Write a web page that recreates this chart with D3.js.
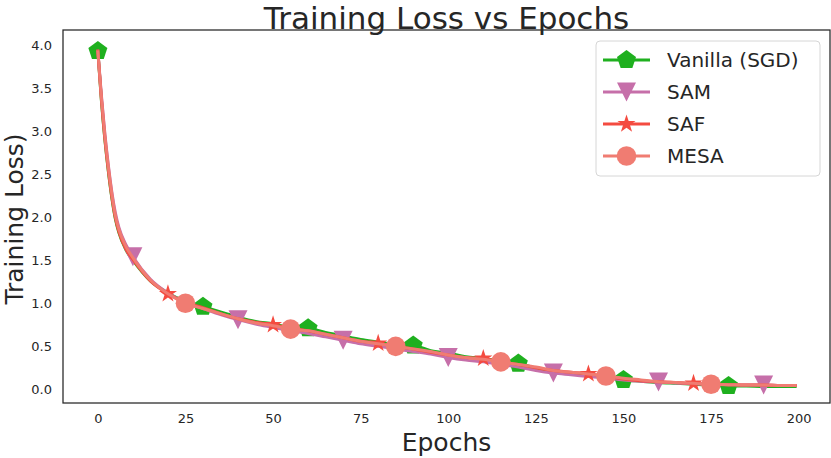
<!DOCTYPE html>
<html>
<head>
<meta charset="utf-8">
<script src="https://cdn.jsdelivr.net/npm/d3@7"></script>
<style>
  body { margin: 0; background: #fff; }
  svg { display: block; font-family: 'DejaVu Sans', sans-serif; }
</style>
</head>
<body>
<div class="chart"></div>
<script>
// Data
const epochs = [0, 1, 2, 3, 4, 5, 6, 8, 10, 15, 20, 25, 30, 35, 40, 45, 50, 55, 60, 65, 70, 75, 80, 85, 90, 95,
  100, 105, 110, 115, 120, 125, 130, 135, 140, 145, 150, 155, 160, 165, 170, 175, 180, 185, 190, 195, 199];

const vanillaLoss = [3.93, 3.36, 2.90, 2.53, 2.22, 1.98, 1.82, 1.62, 1.50, 1.26, 1.12, 1.02, 0.96, 0.90, 0.84, 0.79,
  0.76, 0.72, 0.71, 0.66, 0.62, 0.58, 0.55, 0.52, 0.51, 0.45, 0.42, 0.38, 0.36, 0.33, 0.30, 0.25, 0.21, 0.19,
  0.17, 0.14, 0.11, 0.095, 0.08, 0.07, 0.06, 0.05, 0.04, 0.04, 0.035, 0.035, 0.035];

const samLoss = [3.93, 3.42, 2.97, 2.60, 2.29, 2.05, 1.88, 1.68, 1.54, 1.28, 1.12, 1.01, 0.94, 0.87, 0.81, 0.76,
  0.72, 0.68, 0.65, 0.61, 0.57, 0.53, 0.50, 0.47, 0.44, 0.41, 0.37, 0.34, 0.32, 0.29, 0.26, 0.22, 0.19, 0.17,
  0.15, 0.13, 0.11, 0.095, 0.085, 0.075, 0.065, 0.06, 0.055, 0.05, 0.05, 0.045, 0.045];

const safLoss = [3.93, 3.37, 2.91, 2.54, 2.23, 1.99, 1.83, 1.63, 1.51, 1.26, 1.11, 1.01, 0.95, 0.88, 0.82, 0.78,
  0.75, 0.71, 0.68, 0.64, 0.60, 0.56, 0.535, 0.50, 0.47, 0.43, 0.40, 0.37, 0.36, 0.32, 0.29, 0.25, 0.22, 0.20,
  0.18, 0.155, 0.12, 0.10, 0.09, 0.08, 0.07, 0.06, 0.055, 0.05, 0.05, 0.045, 0.045];

const mesaLoss = [3.92, 3.40, 2.95, 2.58, 2.27, 2.02, 1.86, 1.66, 1.53, 1.27, 1.11, 1.00, 0.94, 0.88, 0.82, 0.77,
  0.74, 0.70, 0.68, 0.64, 0.60, 0.56, 0.53, 0.50, 0.47, 0.44, 0.40, 0.37, 0.35, 0.32, 0.29, 0.26, 0.22, 0.20,
  0.18, 0.155, 0.13, 0.11, 0.09, 0.08, 0.07, 0.06, 0.055, 0.05, 0.05, 0.045, 0.045];

// epochs where each series shows a marker
const vanillaMarks = [0, 30, 60, 90, 120, 150, 180];
const samMarks = [10, 40, 70, 100, 130, 160, 190];
const safMarks = [20, 50, 80, 110, 140, 170];
const mesaMarks = [25, 55, 85, 115, 145, 175];

const seriesNames = ['Vanilla (SGD)', 'SAM', 'SAF', 'MESA'];
const xTicks = [0, 25, 50, 75, 100, 125, 150, 175, 200];
const yTicks = [0.0, 0.5, 1.0, 1.5, 2.0, 2.5, 3.0, 3.5, 4.0];

const w = 831;
const h = 458;
const plot = { left: 63, right: 830, top: 30, bottom: 403 };

const series = [
  { name: seriesNames[0], values: vanillaLoss, marks: vanillaMarks, color: '#1fb01f', shape: 'pentagon' },
  { name: seriesNames[1], values: samLoss, marks: samMarks, color: '#c66fa9', shape: 'triangleDown' },
  { name: seriesNames[2], values: safLoss, marks: safMarks, color: '#f44b40', shape: 'star' },
  { name: seriesNames[3], values: mesaLoss, marks: mesaMarks, color: '#f07c72', shape: 'circle' },
];

// marker paths, shaped like the matplotlib ones
function markerPath(shape) {
  if (shape === 'circle') {
    return d3.symbol(d3.symbolCircle, Math.PI * 9.8 * 9.8)();
  }
  if (shape === 'triangleDown') {
    const r = 9.5;
    return `M0,${r}L${-r},${-r}L${r},${-r}Z`;
  }
  if (shape === 'pentagon') {
    const R = 10;
    const pts = d3.range(5).map((i) => {
      const a = -Math.PI / 2 + (i * 2 * Math.PI) / 5;
      return [R * Math.cos(a), R * Math.sin(a)];
    });
    return 'M' + pts.join('L') + 'Z';
  }
  // star
  const R = 9.5;
  const r = R * 0.381966;
  const pts = d3.range(10).map((i) => {
    const a = -Math.PI / 2 + (i * Math.PI) / 5;
    const rad = i % 2 === 0 ? R : r;
    return [rad * Math.cos(a), rad * Math.sin(a)];
  });
  return 'M' + pts.join('L') + 'Z';
}

const svg = d3.select('.chart').append('svg').attr('width', w).attr('height', h);

const xScale = d3.scaleLinear().domain([-9.95, 208.95]).range([plot.left, plot.right]);
const yScale = d3.scaleLinear().domain([-0.158, 4.174]).range([plot.bottom, plot.top]);

// Axes (no tick marks, seaborn "white" look)
const xAxis = d3.axisBottom(xScale).tickValues(xTicks).tickSize(0).tickPadding(11).tickFormat(d3.format('d'));
const yAxis = d3.axisLeft(yScale).tickValues(yTicks).tickSize(0).tickPadding(11).tickFormat(d3.format('.1f'));

const xAxisG = svg.append('g').attr('transform', `translate(0,${plot.bottom})`).call(xAxis);
const yAxisG = svg.append('g').attr('transform', `translate(${plot.left},0)`).call(yAxis);
[xAxisG, yAxisG].forEach((g) => {
  g.select('.domain').remove();
  g.selectAll('.tick text')
    .style('font-family', 'DejaVu Sans')
    .style('font-size', '13px')
    .style('fill', '#262626');
});

// Clip lines to the plot area
svg.append('clipPath').attr('id', 'clip')
  .append('rect')
  .attr('x', plot.left).attr('y', plot.top)
  .attr('width', plot.right - plot.left).attr('height', plot.bottom - plot.top);

const lineGen = d3.line()
  .x((d) => xScale(d[0]))
  .y((d) => yScale(d[1]))
  .curve(d3.curveMonotoneX);

const plotG = svg.append('g').attr('clip-path', 'url(#clip)');

series.forEach((s) => {
  const pts = epochs.map((e, i) => [e, s.values[i]]);
  plotG.append('path')
    .datum(pts)
    .attr('d', lineGen)
    .attr('fill', 'none')
    .attr('stroke', s.color)
    .attr('stroke-width', 3)
    .attr('stroke-linejoin', 'round')
    .attr('stroke-linecap', 'square');

  plotG.selectAll(null)
    .data(pts.filter((p) => s.marks.includes(p[0])))
    .enter()
    .append('path')
    .attr('d', markerPath(s.shape))
    .attr('transform', (d) => `translate(${xScale(d[0])},${yScale(d[1])})`)
    .attr('fill', s.color);
});

// Frame
svg.append('rect')
  .attr('x', plot.left).attr('y', plot.top)
  .attr('width', plot.right - plot.left).attr('height', plot.bottom - plot.top)
  .attr('fill', 'none')
  .attr('stroke', '#262626')
  .attr('stroke-width', 1.25);

// Title
svg.append('text')
  .attr('x', (plot.left + plot.right) / 2)
  .attr('y', 29)
  .attr('text-anchor', 'middle')
  .style('font-size', '31px')
  .style('fill', '#262626')
  .text('Training Loss vs Epochs');

// Axis labels
svg.append('text')
  .attr('x', (plot.left + plot.right) / 2)
  .attr('y', 451)
  .attr('text-anchor', 'middle')
  .style('font-size', '25px')
  .style('fill', '#262626')
  .text('Epochs');

svg.append('text')
  .attr('transform', 'rotate(-90)')
  .attr('x', -219)
  .attr('y', 23)
  .attr('text-anchor', 'middle')
  .style('font-size', '25px')
  .style('fill', '#262626')
  .text('Training Loss)');

// Legend
const legend = svg.append('g').attr('id', 'legend');
legend.append('rect')
  .attr('x', 596).attr('y', 41)
  .attr('width', 224).attr('height', 135)
  .attr('rx', 4)
  .attr('fill', 'rgba(255,255,255,0.8)')
  .attr('stroke', '#d6d6d6')
  .attr('stroke-width', 1);

const rows = legend.selectAll('.legend-row')
  .data(series)
  .enter()
  .append('g')
  .attr('class', 'legend-row')
  .attr('transform', (d, i) => `translate(0,${60 + i * 32})`);

rows.append('line')
  .attr('x1', 603).attr('x2', 650)
  .attr('stroke', (d) => d.color)
  .attr('stroke-width', 3);

rows.append('path')
  .attr('d', (d) => markerPath(d.shape))
  .attr('transform', 'translate(626.5,0)')
  .attr('fill', (d) => d.color);

rows.append('text')
  .attr('x', 667)
  .attr('dy', '0.36em')
  .style('font-size', '20px')
  .style('fill', '#262626')
  .text((d) => d.name);
</script>
</body>
</html>
